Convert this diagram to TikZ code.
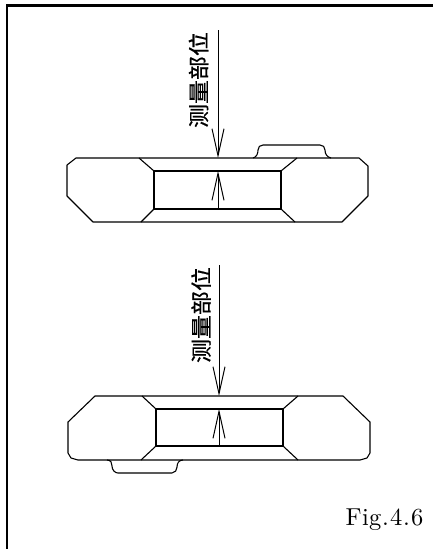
\documentclass[tikz,border=0pt]{standalone}
\usepackage{fontspec}
\newfontfamily\cjkfont[FakeBold=0.5]{Noto Sans CJK SC}
\usetikzlibrary{arrows.meta}
\tikzset{
    outline/.style={line width=1.1pt, line join=round},
    frameline/.style={line width=2.2pt},
    gauge/.style={line width=1pt, -{Straight Barb[length=27pt,width=12pt,line width=1pt]}},
    partlabel/.style={rotate=90, yscale=0.88, inner sep=0pt, font=\cjkfont\fontsize{24}{24}\selectfont},
    figlabel/.style={inner sep=0pt, scale=2.45}
}

\begin{document}
\begin{tikzpicture}[x=1pt,y=-1pt]
    \useasboundingbox (0,0) rectangle (433,549);
    % Frame
    \draw[frameline] (7,549) -- (7,5.5) -- (433,5.5);

    % Upper ring
    \draw[outline] (76,158) -- (67,165) -- (67,196) -- (93,222) -- (342,222)
        -- (368,196) -- (368,166) -- (359,158) -- cycle;
    \draw[outline] (154,171) -- (281,171) -- (281,209) -- (154,209) -- cycle;
    \draw[outline] (139,158) -- (154,171);
    \draw[outline] (141,222) -- (154,209);
    \draw[outline] (297,158) -- (281,171);
    \draw[outline] (295,222) -- (281,209);
    \draw[outline] (253,158) .. controls (257,157) and (258,153) .. (258,150)
        .. controls (258,147) and (260,145) .. (263,145) -- (320,145)
        .. controls (323,145) and (325,147) .. (325,150)
        .. controls (325,154) and (327,157) .. (331,158);

    \coordinate (uptop) at (218,30);
    \coordinate (uptip) at (218,158);
    \coordinate (upbase) at (218,209);
    \coordinate (upbore) at (218,171);
    \draw[gauge] (uptop) -- (uptip);
    \draw[gauge] (upbase) -- (upbore);
    \node[partlabel] (uplabel) at (198.5,80) {测量部位};

    % Lower ring
    \draw[outline] (95,396) -- (68,422) -- (68,453) -- (71,458) -- (78,460) -- (360,460)
        -- (367,458) -- (370,453) -- (370,422) -- (343,396) -- cycle;
    \draw[outline] (156,409) -- (283,409) -- (283,446) -- (156,446) -- cycle;
    \draw[outline] (142,396) -- (156,409);
    \draw[outline] (141,460) -- (156,446);
    \draw[outline] (298,396) -- (283,409);
    \draw[outline] (298,460) -- (283,446);
    \draw[outline] (107,460) .. controls (111,460) and (112,463) .. (112,466)
        .. controls (112,470) and (115,473) .. (118,473) -- (172,473)
        .. controls (175,473) and (177,470) .. (177,467)
        .. controls (177,463) and (179,460) .. (183,460);

    \coordinate (lowtop) at (219,265);
    \coordinate (lowtip) at (219,396);
    \coordinate (lowbase) at (219,446);
    \coordinate (lowbore) at (219,409);
    \draw[gauge] (lowtop) -- (lowtip);
    \draw[gauge] (lowbase) -- (lowbore);
    \node[partlabel] (lowlabel) at (201,315) {测量部位};

    % Caption
    \node[figlabel] (figcap) at (384.5,520) {F\kern.2pt i\kern.1pt g\kern.3pt .\kern.5pt 4\kern.3pt .\kern.5pt 6};
\end{tikzpicture}
\end{document}
